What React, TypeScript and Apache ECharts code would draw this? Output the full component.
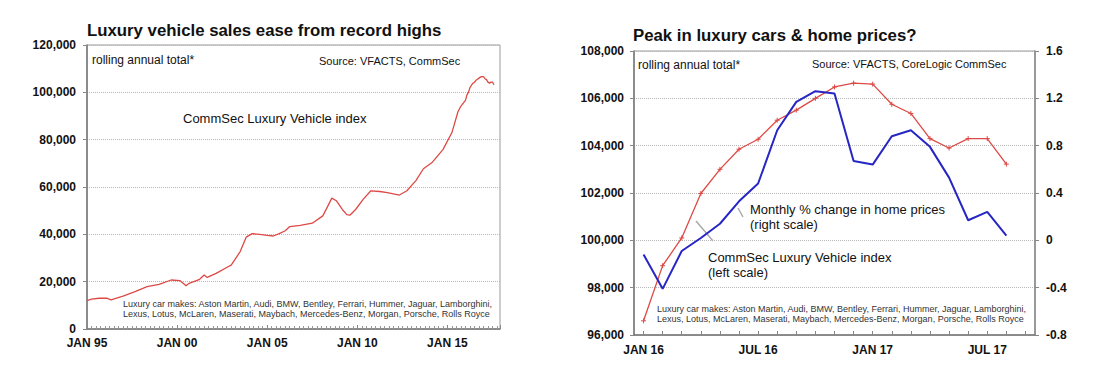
import React, { useEffect, useRef } from "react";
import * as echarts from "echarts";

// ---- Left chart: CommSec Luxury Vehicle index (rolling annual total) ----
const luxDates = [
  "1995-01", "1995-04", "1995-09", "1996-02", "1996-05", "1997-01", "1997-09", "1998-05",
  "1999-01", "1999-09", "2000-03", "2000-07", "2000-09", "2001-04", "2001-07", "2001-09",
  "2002-03", "2002-10", "2003-01", "2003-07", "2003-11", "2004-03", "2004-08", "2005-01",
  "2005-05", "2005-09", "2006-01", "2006-04", "2006-11", "2007-07", "2008-02", "2008-05",
  "2008-08", "2008-11", "2009-03", "2009-06", "2009-08", "2009-12", "2010-05", "2010-10",
  "2011-04", "2011-09", "2012-05", "2012-10", "2013-04", "2013-09", "2014-03", "2014-10",
  "2015-04", "2015-08", "2015-10",
  "2016-01", "2016-02", "2016-03", "2016-04", "2016-05", "2016-06", "2016-07", "2016-08",
  "2016-09", "2016-10", "2016-11", "2016-12", "2017-01", "2017-02", "2017-03", "2017-04",
  "2017-05", "2017-06", "2017-07", "2017-08",
];
const luxValues = [
  12000, 12600, 13000, 13000, 12300, 13900, 15800, 17900,
  18900, 20700, 20400, 18300, 19300, 21000, 22800, 21800,
  23500, 26000, 27000, 32700, 38800, 40300, 40000, 39600,
  39300, 40300, 41500, 43300, 43800, 44700, 47800, 51500,
  55300, 54200, 50500, 48300, 48100, 50600, 54900, 58400,
  58100, 57600, 56600, 58400, 62700, 67700, 70500, 75800,
  83000, 91800, 94200,
  96600, 98930, 100100, 101980, 103000, 103850, 104270, 105075,
  105500, 106000, 106480, 106640, 106600, 105750, 105360, 104300,
  103900, 104300, 104300, 103220,
];
const leftYTicks = [0, 20000, 40000, 60000, 80000, 100000, 120000];
const leftXTickYears = [1995, 2000, 2005, 2010, 2015];

// ---- Right chart: monthly, Jan 16 .. Sep 17 ----
const monthCats = [
  "JAN 16", "FEB 16", "MAR 16", "APR 16", "MAY 16", "JUN 16", "JUL 16", "AUG 16", "SEP 16",
  "OCT 16", "NOV 16", "DEC 16", "JAN 17", "FEB 17", "MAR 17", "APR 17", "MAY 17", "JUN 17",
  "JUL 17", "AUG 17", "SEP 17",
];
const luxIndexRecent = [
  96600, 98930, 100100, 101980, 103000, 103850, 104270, 105075, 105500, 106000,
  106480, 106640, 106600, 105750, 105360, 104300, 103900, 104300, 104300, 103220,
];
const homePriceChange = [
  -0.12, -0.41, -0.09, 0.02, 0.14, 0.33, 0.48, 0.93, 1.17, 1.26,
  1.24, 0.67, 0.64, 0.88, 0.93, 0.79, 0.53, 0.17, 0.24, 0.04,
];

const footLine1 =
  "Luxury car makes: Aston Martin, Audi, BMW, Bentley, Ferrari, Hummer, Jaguar, Lamborghini,";
const footLine2 =
  "Lexus, Lotus, McLaren, Maserati, Maybach, Mercedes-Benz, Morgan, Porsche, Rolls Royce";

const FONT = "Liberation Sans, Arial, Helvetica, sans-serif";
const RED = "#dd4a45";
const BLUE = "#2626c4";

function monthIndex(d: string) {
  const [y, m] = d.split("-").map(Number);
  return (y - 1995) * 12 + (m - 1);
}
function commas(v: number) {
  return String(Math.round(v)).replace(/\B(?=(\d{3})+(?!\d))/g, ",");
}

function txt(text: string, x: number, y: number, size: number, opts: any = {}) {
  return {
    type: "text",
    silent: true,
    style: {
      text,
      x,
      y,
      fill: opts.fill || "#111",
      font: `${opts.weight || "normal"} ${size}px ${FONT}`,
      verticalAlign: "middle",
      textVerticalAlign: "middle",
      align: "left",
    },
  };
}

export default function App() {
  const ref = useRef<HTMLDivElement>(null);
  useEffect(() => {
    if (!ref.current) return;
    const chart = echarts.init(ref.current, undefined, { renderer: "svg" });
    const axisLabel = { fontFamily: FONT, fontWeight: "bold", fontSize: 12, color: "#111" };
    const gridLine = { show: true, lineStyle: { color: "#b8b8b8", type: "dotted", width: 1 } };
    const leftData = luxDates.map((d, i) => [monthIndex(d), luxValues[i]]);
    chart.setOption({
      animation: false,
      grid: [
        { left: 87, top: 45, width: 413, height: 284, show: true, borderColor: "#999", borderWidth: 1, containLabel: false },
        { left: 634, top: 51, width: 401, height: 284, show: true, borderColor: "#999", borderWidth: 1, containLabel: false },
      ],
      xAxis: [
        {
          type: "value",
          gridIndex: 0,
          min: 0,
          max: 275,
          interval: 60,
          axisLine: { show: true, onZero: false, lineStyle: { color: "#777", width: 1.5 } },
          axisTick: { show: true, inside: true, length: 4, lineStyle: { color: "#888" } },
          minorTick: { show: true, splitNumber: 20, length: 3, lineStyle: { color: "#999" } },
          splitLine: { show: false },
          axisLabel: {
            ...axisLabel,
            margin: 8,
            formatter: (v: number) => {
              const yr = 1995 + Math.round(v / 12);
              if (!leftXTickYears.includes(yr)) return "";
              return "JAN " + String(yr % 100).padStart(2, "0");
            },
          },
        },
        {
          type: "category",
          gridIndex: 1,
          data: monthCats,
          boundaryGap: true,
          axisLine: { show: true, onZero: false, lineStyle: { color: "#777", width: 1.5 } },
          axisTick: { show: true, inside: true, alignWithLabel: true, interval: 0, length: 4, lineStyle: { color: "#888" } },
          axisLabel: { ...axisLabel, interval: 5, margin: 9 },
          splitLine: { show: false },
        },
      ],
      yAxis: [
        {
          type: "value",
          gridIndex: 0,
          min: leftYTicks[0],
          max: leftYTicks[leftYTicks.length - 1],
          interval: 20000,
          axisLine: { show: true, onZero: false, lineStyle: { color: "#777", width: 1.5 } },
          axisTick: { show: true, length: 4, lineStyle: { color: "#888" } },
          axisLabel: { ...axisLabel, margin: 11, formatter: (v: number) => commas(v) },
          splitLine: gridLine,
        },
        {
          type: "value",
          gridIndex: 1,
          min: 96000,
          max: 108000,
          interval: 2000,
          axisLine: { show: true, onZero: false, lineStyle: { color: "#777", width: 1.5 } },
          axisTick: { show: true, length: 4, lineStyle: { color: "#888" } },
          axisLabel: { ...axisLabel, margin: 10, formatter: (v: number) => commas(v) },
          splitLine: gridLine,
        },
        {
          type: "value",
          gridIndex: 1,
          position: "right",
          min: -0.8,
          max: 1.6,
          interval: 0.4,
          axisLine: { show: true, onZero: false, lineStyle: { color: "#888", width: 1.5 } },
          axisTick: { show: true, length: 4, lineStyle: { color: "#888" } },
          axisLabel: {
            ...axisLabel,
            margin: 11,
            formatter: (v: number) => String(Math.round(v * 10) / 10),
          },
          splitLine: { show: false },
        },
      ],
      series: [
        {
          type: "line",
          xAxisIndex: 0,
          yAxisIndex: 0,
          data: leftData,
          showSymbol: false,
          lineStyle: { color: RED, width: 1.3 },
        },
        {
          type: "line",
          xAxisIndex: 1,
          yAxisIndex: 1,
          data: luxIndexRecent,
          symbol: "path://M0 5H10M5 0V10",
          symbolSize: 5,
          itemStyle: { color: "none", borderColor: RED, borderWidth: 1 },
          lineStyle: { color: RED, width: 1.3 },
          z: 3,
        },
        {
          type: "line",
          xAxisIndex: 1,
          yAxisIndex: 2,
          data: homePriceChange,
          showSymbol: false,
          lineStyle: { color: BLUE, width: 2 },
          z: 4,
        },
      ],
      graphic: [
        txt("Luxury vehicle sales ease from record highs", 87, 30, 16.8, { weight: "bold" }),
        txt("rolling annual total*", 92, 60, 12),
        txt("Source: VFACTS, CommSec", 319, 61, 11),
        txt("CommSec Luxury Vehicle index", 183, 118, 13),
        txt(footLine1, 123, 304, 9, { fill: "#333" }),
        txt(footLine2, 123, 314, 9, { fill: "#333" }),

        txt("Peak in luxury cars & home prices?", 633, 35, 16.8, { weight: "bold" }),
        txt("rolling annual total*", 638, 65, 12),
        txt("Source: VFACTS, CoreLogic CommSec", 812, 64, 11),
        txt("Monthly % change in home prices", 750, 209, 13),
        txt("(right scale)", 750, 224, 13),
        txt("CommSec Luxury Vehicle index", 708, 257, 13),
        txt("(left scale)", 708, 272, 13),
        txt(footLine1, 657, 309, 9, { fill: "#333" }),
        txt(footLine2, 657, 319, 9, { fill: "#333" }),
        {
          type: "line",
          silent: true,
          shape: { x1: 738, y1: 208, x2: 743, y2: 217 },
          style: { stroke: "#aaa", lineWidth: 1.5 },
        },
        {
          type: "line",
          silent: true,
          shape: { x1: 696, y1: 221, x2: 713, y2: 241 },
          style: { stroke: "#aaa", lineWidth: 1.5 },
        },
      ],
    });
    return () => chart.dispose();
  }, []);
  return (
    <div
      ref={ref}
      style={{ position: "fixed", left: 0, top: 0, width: 1110, height: 382, background: "#fff" }}
    />
  );
}
